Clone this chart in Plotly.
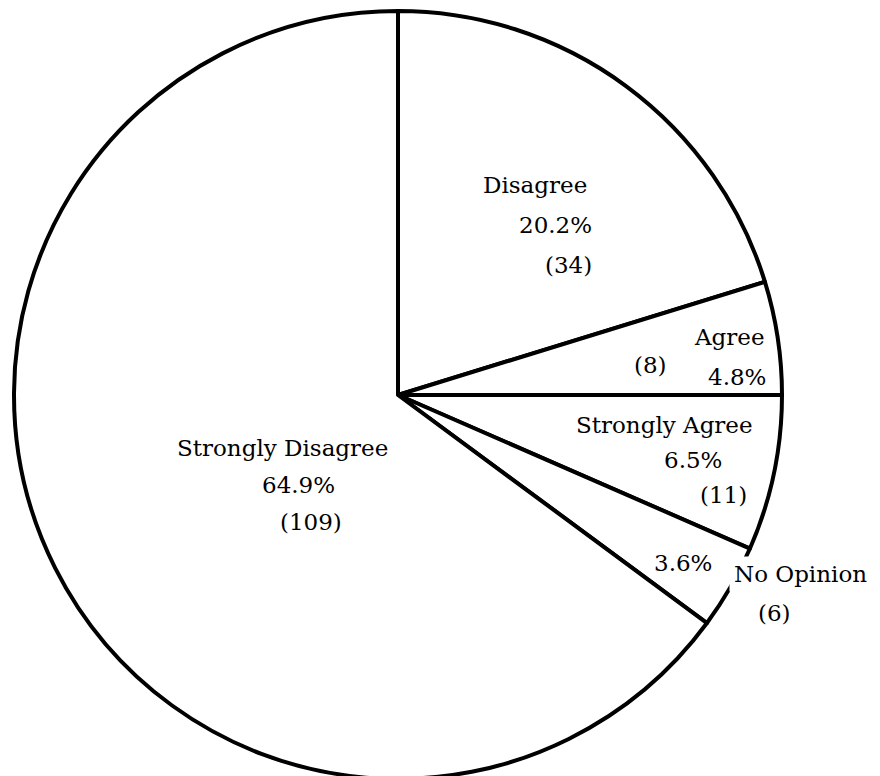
import plotly.graph_objects as go

categories = ["Disagree", "Agree", "Strongly Agree", "No Opinion", "Strongly Disagree"]
counts = [34, 8, 11, 6, 109]
percents = ["20.2%", "4.8%", "6.5%", "3.6%", "64.9%"]

FONT = "DejaVu Serif"
W, H = 880, 776
OFF = 8  # page body margin offset

fig = go.Figure(go.Pie(
    labels=categories,
    values=counts,
    sort=False,
    direction="clockwise",
    rotation=0,
    textinfo="none",
    hoverinfo="label+value+percent",
    marker=dict(colors=["white"] * len(categories), line=dict(color="black", width=4)),
    domain=dict(x=[6 / W, 774 / W], y=[5 / H, 773 / H]),
    showlegend=False,
))


def ann(text, x, y, size=23, bg=None):
    x -= OFF
    y -= OFF
    d = dict(text=text, x=x / W, y=1 - y / H, xref="paper", yref="paper",
             showarrow=False, xanchor="center", yanchor="middle",
             font=dict(family=FONT, size=size, color="black"))
    if bg:
        d.update(bgcolor=bg, borderpad=4)
    fig.add_annotation(**d)

c = dict(zip(categories, zip(counts, percents)))

# Disagree
ann(categories[0], 535, 185)
ann(c["Disagree"][1], 555, 225)
ann(f"({c['Disagree'][0]})", 568, 265)
# Agree
ann(categories[1], 729, 337)
ann(f"({c['Agree'][0]})", 650, 365)
ann(c["Agree"][1], 737, 377)
# Strongly Agree
ann(categories[2], 664, 425)
ann(c["Strongly Agree"][1], 693, 460)
ann(f"({c['Strongly Agree'][0]})", 723, 495)
# No Opinion
ann(c["No Opinion"][1], 683, 563)
ann(categories[3], 800, 574, bg="white")
ann(f"({c['No Opinion'][0]})", 774, 613)
# Strongly Disagree
ann(categories[4], 282, 448)
ann(c["Strongly Disagree"][1], 298, 485)
ann(f"({c['Strongly Disagree'][0]})", 311, 522)

fig.update_layout(
    width=W, height=H,
    margin=dict(l=0, r=0, t=0, b=0),
    paper_bgcolor="white", plot_bgcolor="white",
)

fig.write_html("out.html")
